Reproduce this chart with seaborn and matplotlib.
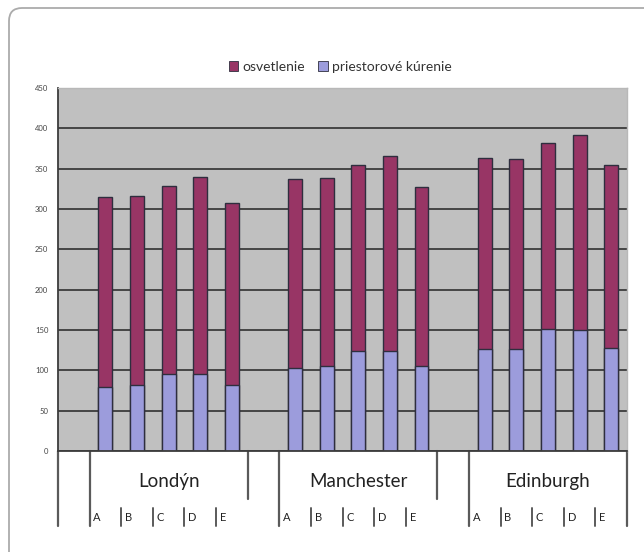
import matplotlib
matplotlib.use("Agg")
import matplotlib.pyplot as plt
from matplotlib.patches import FancyBboxPatch, Patch
from matplotlib.transforms import IdentityTransform
import numpy as np
import pandas as pd
import seaborn as sns

# ---- data ----
cities = ["Londýn", "Manchester", "Edinburgh"]
variants = ["A", "B", "C", "D", "E"]
kurenie = [79, 82, 96, 96, 82,
           103, 105, 124, 124, 105,
           126, 127, 151, 150, 128]           # priestorové kúrenie
osvetlenie = [236, 234, 233, 244, 225,
              234, 233, 230, 242, 222,
              237, 235, 231, 242, 226]        # osvetlenie
yticks = [0, 50, 100, 150, 200, 250, 300, 350, 400, 450]
legend_labels = ["osvetlenie", "priestorové kúrenie"]

# ---- table ----
rows = []
order = []
for ci, c in enumerate(cities):
    order.append(f"gap{ci}")
    for vi, v in enumerate(variants):
        k = ci * len(variants) + vi
        key = f"{c}|{v}"
        order.append(key)
        rows.append({"slot": key, "city": c, "variant": v,
                     "kurenie": kurenie[k], "osvetlenie": osvetlenie[k]})
df = pd.DataFrame(rows)
df["total"] = df["kurenie"] + df["osvetlenie"]

sns.set_style("white")
plt.rcParams["font.family"] = ["Lato", "DejaVu Sans"]

W, H = 644, 552
fig = plt.figure(figsize=(W / 100, H / 100), dpi=100)
fig.patch.set_facecolor("white")

# outer rounded frame
frame = FancyBboxPatch((9, -20), 660, H - 8 + 20,
                       boxstyle="round,pad=0,rounding_size=13",
                       transform=IdentityTransform(), facecolor="none",
                       edgecolor="#ABABAB", linewidth=1.3)
fig.patches.append(frame)

L, R, T, B = 58, 627, 88, 451
ax = fig.add_axes([L / W, 1 - B / H, (R - L) / W, (B - T) / H])
ax.set_facecolor("#C0C0C0")

maroon = "#983565"
blue = "#9C9CDC"
edge = "#2E2E3E"

sns.barplot(data=df, x="slot", y="total", order=order, color=maroon,
            saturation=1, width=0.44, edgecolor=edge, linewidth=1.0, ax=ax,
            errorbar=None)
sns.barplot(data=df, x="slot", y="kurenie", order=order, color=blue,
            saturation=1, width=0.44, edgecolor=edge, linewidth=1.0, ax=ax,
            errorbar=None)

ax.set_xlim(-0.5, len(order) - 0.5)
ax.set_ylim(0, 450)
ax.set_xlabel("")
ax.set_ylabel("")

ax.set_yticks(yticks)
ax.set_yticklabels([str(t) for t in yticks], fontsize=5.5, color="#444444")
ax.yaxis.grid(True, color="#3C3C3C", linewidth=1.3)
ax.set_axisbelow(True)
ax.yaxis.get_gridlines()[-1].set_visible(False)
ax.tick_params(axis="y", direction="out", length=5, width=1.2,
               color="#3C3C3C", pad=2)

ax.set_xticks(np.arange(-0.5, len(order), 1.0))
ax.set_xticklabels([])
ax.tick_params(axis="x", direction="out", length=4, width=1.0,
               color="#555555")

for s in ["left", "bottom"]:
    ax.spines[s].set_color("#3C3C3C")
    ax.spines[s].set_linewidth(1.3)
for s in ["top", "right"]:
    ax.spines[s].set_color("#B8B8B8")
    ax.spines[s].set_linewidth(1.0)

# multi-level category axis
tr = ax.get_xaxis_transform()
lc = "#5A5A5A"
full_bottom = -0.206
mid_bottom = -0.132
letter_top = -0.157
ax.plot([-0.5, -0.5], [0, full_bottom], transform=tr, clip_on=False,
        color=lc, lw=1.6)
ax.plot([len(order) - 0.5] * 2, [0, full_bottom], transform=tr,
        clip_on=False, color=lc, lw=1.6)
for ci, c in enumerate(cities):
    idx = [order.index(f"{c}|{v}") for v in variants]
    first, last = idx[0], idx[-1]
    ax.plot([first - 0.5] * 2, [0, full_bottom], transform=tr,
            clip_on=False, color=lc, lw=1.6)
    if ci < len(cities) - 1:
        ax.plot([last + 0.5] * 2, [0, mid_bottom], transform=tr,
                clip_on=False, color=lc, lw=1.6)
    ax.text((first + last) / 2, -0.083, c, transform=tr, ha="center",
            va="center", fontsize=13.5, color="#222222")
    for j, v in enumerate(variants):
        pos = idx[j]
        if j > 0:
            ax.plot([pos - 0.5] * 2, [letter_top, full_bottom], transform=tr,
                    clip_on=False, color=lc, lw=1.4)
        ax.text(pos - 0.5 + 0.12, -0.182, v, transform=tr, ha="left",
                va="center", fontsize=8, color="#222222")

# legend
handles = [Patch(facecolor=maroon, edgecolor=edge, linewidth=0.6),
           Patch(facecolor=blue, edgecolor=edge, linewidth=0.6)]
fig.legend(handles, legend_labels, loc="center", bbox_to_anchor=(0.528, 0.879),
           ncol=2, frameon=False, fontsize=10, handlelength=0.7,
           handleheight=0.7, handletextpad=0.25, columnspacing=1.0,
           labelcolor="#333333")

fig.savefig("out.png", dpi=100)
